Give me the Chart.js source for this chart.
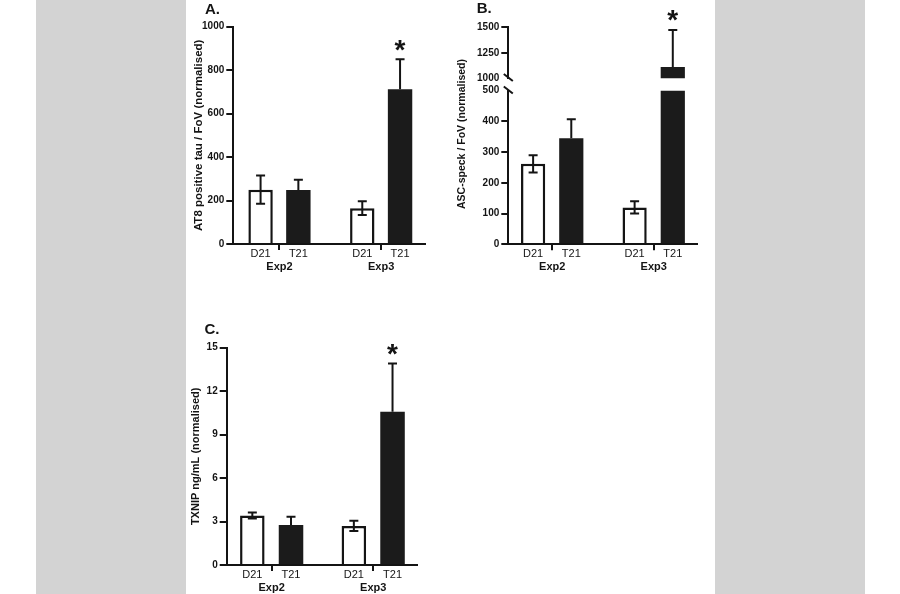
<!DOCTYPE html>
<html>
<head>
<meta charset="utf-8">
<script src="https://cdn.jsdelivr.net/npm/chart.js@4.4.1/dist/chart.umd.min.js"></script>
<style>
html,body{margin:0;padding:0;background:#fff;width:900px;height:594px;overflow:hidden;}
.strip{position:absolute;top:0;height:594px;width:150px;background:#d3d3d3;}
.panel{position:absolute;}
</style>
</head>
<body>
<div class="strip" style="left:36px"></div>
<div class="strip" style="left:715px"></div>
<div class="panel" style="left:186px;top:0px"><canvas id="cA"></canvas></div>
<div class="panel" style="left:450px;top:0px"><canvas id="cB"></canvas></div>
<div class="panel" style="left:450px;top:0px"><canvas id="cBtop"></canvas></div>
<div class="panel" style="left:186px;top:300px"><canvas id="cC"></canvas></div>
<script>
// ---------- data ----------
const groups = ['Exp2', 'Exp3'];
const conditions = ['D21', 'T21'];
const significant = [false, true];

// Panel A: AT8 positive tau / FoV
const at8D21 = [250, 165];
const at8D21Err = [65, 32];
const at8T21 = [248, 712];
const at8T21Err = [48, 138];
const at8Ticks = [0, 200, 400, 600, 800, 1000];

// Panel B: ASC-speck / FoV (broken axis)
const ascD21 = [262, 120];
const ascD21Err = [28, 20];
const ascT21 = [345, 1112];
const ascT21Err = [62, 362];
const ascLowerTicks = [0, 100, 200, 300, 400, 500];
const ascUpperTicks = [1000, 1250, 1500];

// Panel C: TXNIP ng/mL
const txnipD21 = [3.42, 2.70];
const txnipD21Err = [0.21, 0.35];
const txnipT21 = [2.76, 10.58];
const txnipT21Err = [0.57, 3.33];
const txnipTicks = [0, 3, 6, 9, 12, 15];

// ---------- styling ----------
const FONT = "'Liberation Sans', Arial, Helvetica, sans-serif";
const INK = '#141414';
const BAR = '#1b1b1b';

const annotPlugin = {
  id: 'annot',
  afterDatasetsDraw(chart, args, o) {
    const ctx = chart.ctx, a = chart.chartArea, ys = chart.scales.y;
    ctx.save();
    ctx.beginPath();
    ctx.rect(a.left - 20, a.top - 1, a.right - a.left + 40, a.bottom - a.top + 2);
    ctx.clip();
    ctx.strokeStyle = INK; ctx.lineWidth = 2; ctx.lineCap = 'butt';
    chart.data.datasets.forEach((ds, di) => {
      const meta = chart.getDatasetMeta(di);
      meta.data.forEach((bar, i) => {
        const v = ds.data[i].y, e = ds.errors[i];
        const yTop = ys.getPixelForValue(v + e);
        const yBot = ys.getPixelForValue(ds.hollow ? v - e : v);
        const hw = o.capWidth / 2;
        ctx.beginPath();
        ctx.moveTo(bar.x, yTop); ctx.lineTo(bar.x, yBot);
        ctx.moveTo(bar.x - hw, yTop); ctx.lineTo(bar.x + hw, yTop);
        if (ds.hollow) { ctx.moveTo(bar.x - hw, yBot); ctx.lineTo(bar.x + hw, yBot); }
        ctx.stroke();
      });
    });
    ctx.restore();
  },
  afterDraw(chart, args, o) {
    const ctx = chart.ctx, a = chart.chartArea, ys = chart.scales.y;
    ctx.save();
    ctx.fillStyle = INK;
    if (o.catLabels) {
      ctx.font = '11px ' + FONT;
      ctx.textAlign = 'center'; ctx.textBaseline = 'middle';
      chart.data.datasets.forEach((ds, di) => {
        chart.getDatasetMeta(di).data.forEach(bar => {
          ctx.fillText(ds.label, bar.x, a.bottom + 9.5);
        });
      });
    }
    if (o.stars) {
      const ds = chart.data.datasets[1];
      const meta = chart.getDatasetMeta(1);
      ctx.font = 'bold 28px ' + FONT;
      ctx.textAlign = 'center'; ctx.textBaseline = 'alphabetic';
      meta.data.forEach((bar, i) => {
        if (!significant[i]) return;
        const top = ys.getPixelForValue(ds.data[i].y + ds.errors[i]);
        ctx.fillText('*', bar.x, top - 16 + 0.55 * 28);
      });
    }
    ctx.strokeStyle = INK; ctx.lineWidth = 2;
    const bx = a.left;
    const slash = y => { ctx.beginPath(); ctx.moveTo(bx - 4.5, y - 3.5); ctx.lineTo(bx + 4.5, y + 3.5); ctx.stroke(); };
    if (o.breakBottom) slash(a.bottom - 0.8);
    if (o.breakTop) slash(a.top - 0.7);
    if (o.letter) {
      ctx.font = 'bold 15px ' + FONT;
      ctx.textAlign = 'left'; ctx.textBaseline = 'alphabetic';
      ctx.fillText(o.letter, o.letterX, o.letterY);
    }
    if (o.sideTitle) {
      ctx.translate(o.sideTitleX, o.sideTitleY);
      ctx.rotate(-Math.PI / 2);
      ctx.font = 'bold ' + o.sideTitleSize + 'px ' + FONT;
      ctx.textAlign = 'center'; ctx.textBaseline = 'middle';
      ctx.fillText(o.sideTitle, 0, 0);
    }
    ctx.restore();
  }
};

function barPanel(id, p) {
  const el = document.getElementById(id);
  el.width = p.w; el.height = p.h;
  el.style.width = p.w + 'px'; el.style.height = p.h + 'px';
  const hidden = p.hiddenTicks || [];
  const common = { categoryPercentage: p.catPct, barPercentage: p.barPct, clip: p.clip };
  return new Chart(el, {
    type: 'bar',
    data: {
      datasets: [
        Object.assign({
          label: conditions[0], data: p.d21.map((v, i) => ({ x: i, y: v })), errors: p.d21e, hollow: true,
          backgroundColor: '#ffffff', borderColor: INK, borderWidth: 2.5, borderSkipped: 'start'
        }, common),
        Object.assign({
          label: conditions[1], data: p.t21.map((v, i) => ({ x: i, y: v })), errors: p.t21e, hollow: false,
          backgroundColor: BAR, borderColor: BAR, borderWidth: 0
        }, common)
      ]
    },
    options: {
      responsive: false, animation: false,
      layout: { padding: { left: 0, top: p.area.top, right: p.w - p.area.right, bottom: p.showX ? 0 : p.h - p.area.bottom } },
      scales: {
        x: {
          type: 'linear', min: p.xmin, max: p.xmax, display: p.showX, offset: false,
          afterBuildTicks: s => { s.ticks = groups.map((g, i) => ({ value: i })); },
          afterFit: p.showX ? (s => { s.height = p.h - p.area.bottom; }) : undefined,
          ticks: { callback: (v, i) => groups[i], color: INK, font: { family: FONT, size: 11, weight: 'bold' }, padding: 10, maxRotation: 0, autoSkip: false },
          grid: { offset: false, drawOnChartArea: false, drawTicks: true, tickLength: 6, color: INK, lineWidth: 2 },
          border: { display: true, color: INK, width: 2, z: 1 }
        },
        y: {
          type: 'linear', min: p.ymin, max: p.ymax,
          afterBuildTicks: s => { s.ticks = p.ticks.map(v => ({ value: v })); },
          afterFit: s => { s.width = p.area.left; },
          ticks: { callback: v => String(v), color: INK, font: { family: FONT, size: 10, weight: 'bold' }, padding: 2 },
          grid: {
            drawOnChartArea: false, drawTicks: true, tickLength: 7, lineWidth: 2,
            color: c => (c.tick && hidden.includes(c.tick.value)) ? 'rgba(0,0,0,0)' : INK
          },
          border: { display: true, color: INK, width: 2, z: 1 },
          title: p.yTitle ? {
            display: true, text: p.yTitle, color: INK,
            font: { family: FONT, size: p.titleSize, weight: 'bold', lineHeight: 1.2 },
            padding: { top: p.titlePad, bottom: 0 }
          } : { display: false }
        }
      },
      plugins: {
        legend: { display: false }, tooltip: { enabled: false }, title: { display: false },
        annot: Object.assign({ capWidth: 9 }, p.annot)
      }
    },
    plugins: [annotPlugin]
  });
}

barPanel('cA', {
  w: 264, h: 285, area: { left: 47.3, top: 26.7, right: 239, bottom: 244 },
  xmin: -0.454, xmax: 1.431, catPct: 0.743, barPct: 0.646, showX: true,
  ymin: 0, ymax: 1000, ticks: at8Ticks,
  d21: at8D21, d21e: at8D21Err, t21: at8T21, t21e: at8T21Err,
  yTitle: 'AT8 positive tau / FoV (normalised)', titleSize: 11.5, titlePad: 5.8,
  annot: { catLabels: true, stars: true, letter: 'A.', letterX: 19, letterY: 13.5 }
});

barPanel('cB', {
  w: 265, h: 285, area: { left: 58.3, top: 90.7, right: 246.7, bottom: 244.3 },
  xmin: -0.4325, xmax: 1.4236, catPct: 0.752, barPct: 0.634, showX: true, clip: 0,
  ymin: 0, ymax: 500, ticks: ascLowerTicks, hiddenTicks: [500],
  d21: ascD21, d21e: ascD21Err, t21: ascT21, t21e: ascT21Err,
  annot: { catLabels: true, stars: false, breakTop: true, letter: 'B.', letterX: 26.7, letterY: 12.7,
           sideTitle: 'ASC-speck / FoV (normalised)', sideTitleX: 11.7, sideTitleY: 134, sideTitleSize: 10.5 }
});

barPanel('cBtop', {
  w: 265, h: 100, area: { left: 58.3, top: 27.3, right: 246.7, bottom: 78.3 },
  xmin: -0.4325, xmax: 1.4236, catPct: 0.752, barPct: 0.634, showX: false, clip: 0,
  ymin: 1000, ymax: 1500, ticks: ascUpperTicks, hiddenTicks: [1000],
  d21: ascD21, d21e: ascD21Err, t21: ascT21, t21e: ascT21Err,
  annot: { catLabels: false, stars: true, breakBottom: true }
});

barPanel('cC', {
  w: 264, h: 294, area: { left: 40.7, top: 47.7, right: 231.3, bottom: 265 },
  xmin: -0.443, xmax: 1.4345, catPct: 0.762, barPct: 0.634, showX: true,
  ymin: 0, ymax: 15, ticks: txnipTicks,
  d21: txnipD21, d21e: txnipD21Err, t21: txnipT21, t21e: txnipT21Err,
  yTitle: 'TXNIP ng/mL (normalised)', titleSize: 11, titlePad: 3.4,
  annot: { catLabels: true, stars: true, letter: 'C.', letterX: 18.5, letterY: 34 }
});
</script>
</body>
</html>
